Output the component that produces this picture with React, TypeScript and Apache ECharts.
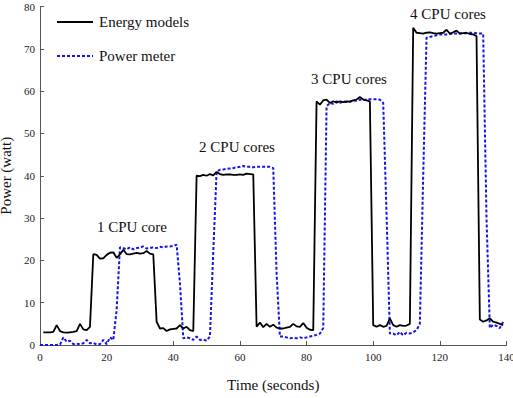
import React, { useEffect, useRef } from "react";
import * as echarts from "echarts";

// Sample times in seconds (one reading per second)
const timeSeconds: number[] = Array.from({ length: 140 }, (_, i) => i);

// Power estimated by the energy models (watt); no reading at t = 0
const energyModels: (number | null)[] = [
  null, 3.0, 3.0, 3.0, 3.1, 4.7, 3.3, 3.0, 2.9, 3.0,
  3.1, 3.3, 5.0, 3.7, 3.5, 4.3, 21.5, 21.3, 20.4, 20.5,
  21.3, 21.8, 21.9, 20.6, 21.4, 22.5, 21.5, 21.4, 21.6, 21.8,
  21.6, 21.7, 22.2, 21.6, 21.4, 5.5, 3.9, 4.0, 3.3, 3.7,
  3.8, 3.9, 4.7, 3.9, 4.3, 3.5, 3.3, 40.0, 39.9, 40.2,
  40.0, 40.4, 40.1, 40.9, 40.4, 40.2, 40.3, 40.3, 40.2, 40.2,
  40.3, 40.2, 40.5, 40.4, 40.3, 4.3, 5.3, 4.2, 5.0, 4.3,
  4.8, 4.1, 3.9, 3.9, 4.1, 4.3, 5.0, 4.4, 4.3, 5.2,
  4.1, 3.6, 3.5, 57.6, 56.8, 57.8, 58.0, 57.2, 57.6, 57.3,
  57.6, 57.4, 57.6, 57.5, 57.8, 58.0, 58.6, 58.0, 57.8, 57.6,
  4.7, 4.3, 4.7, 4.3, 4.5, 6.3, 4.7, 4.3, 4.7, 4.5,
  4.6, 5.0, 75.0, 73.8, 73.7, 73.6, 73.8, 73.9, 73.7, 73.6,
  73.7, 73.8, 74.5, 73.6, 73.9, 74.3, 73.6, 73.7, 73.8, 73.5,
  73.4, 73.0, 6.0, 5.5, 5.8, 6.3, 5.5, 5.3, 5.0, 4.7,
];

// Power measured by the external power meter (watt)
const powerMeter: number[] = [
  0.0, 0.0, 0.0, 0.0, 0.0, 0.0, 0.1, 1.8, 0.8, 1.0,
  0.2, 0.3, 0.2, 0.4, 1.2, 0.4, 0.5, 0.1, 0.2, 1.2,
  0.2, 1.8, 1.2, 8.3, 23.1, 22.9, 22.6, 23.1, 22.6, 22.9,
  23.0, 23.3, 22.8, 22.9, 23.1, 22.9, 23.2, 23.1, 23.3, 23.3,
  23.4, 23.7, 14.6, 1.6, 1.8, 1.6, 1.2, 2.0, 1.2, 1.3,
  1.0, 2.0, 22.0, 41.0, 41.4, 41.5, 41.6, 41.7, 41.8, 42.0,
  42.1, 42.3, 42.1, 42.1, 42.0, 42.1, 42.1, 42.1, 42.1, 42.1,
  41.8, 17.0, 2.0, 2.0, 1.8, 1.6, 1.7, 1.6, 1.8, 1.6,
  1.8, 2.0, 2.2, 2.4, 2.7, 4.0, 56.4, 57.2, 57.0, 57.6,
  57.2, 57.6, 57.4, 57.5, 57.8, 57.7, 58.0, 57.9, 58.0, 58.1,
  58.1, 58.1, 58.0, 57.2, 31.0, 2.7, 2.7, 2.3, 3.1, 2.3,
  2.9, 2.7, 3.0, 3.5, 5.0, 40.0, 72.6, 72.8, 73.0, 73.2,
  73.4, 73.4, 73.4, 73.5, 73.6, 73.6, 73.6, 73.7, 73.7, 73.8,
  73.8, 73.7, 73.6, 73.6, 30.0, 4.0, 4.8, 4.5, 4.0, 5.5,
];

const seriesNames = ["Energy models", "Power meter"];
const phaseLabels = ["1 CPU core", "2 CPU cores", "3 CPU cores", "4 CPU cores"];

const FONT = "Liberation Serif";
const ENERGY_COLOR = "#000000";
const METER_COLOR = "#1414e6";
const METER_DASH = [3, 2];

export default function App() {
  const ref = useRef<HTMLDivElement>(null);

  useEffect(() => {
    if (!ref.current) return;
    const chart = echarts.init(ref.current, undefined, { renderer: "svg" });

    const energyPoints = timeSeconds.map((t, i) => [t, energyModels[i]]);
    const meterPoints = timeSeconds.map((t, i) => [t, powerMeter[i]]);

    const labelPositions = [
      [132, 227],
      [237, 147],
      [349, 79],
      [448, 14],
    ];

    // Hand-drawn legend: line sample followed by its label
    const legendRows = [
      { name: seriesNames[0], y: 22, stroke: ENERGY_COLOR, dash: null as number[] | null },
      { name: seriesNames[1], y: 56, stroke: METER_COLOR, dash: METER_DASH },
    ];
    const legendGraphics = legendRows.flatMap((row) => [
      {
        type: "line",
        shape: { x1: 57, y1: row.y, x2: 93, y2: row.y },
        style: { stroke: row.stroke, lineWidth: 2, lineDash: row.dash || undefined },
      },
      {
        type: "text",
        x: 99,
        y: row.y,
        style: {
          text: row.name,
          fontFamily: FONT,
          fontSize: 15,
          fill: "#111",
          textAlign: "left",
          textVerticalAlign: "middle",
        },
      },
    ]);

    const phaseGraphics = phaseLabels.map((text, i) => ({
      type: "text",
      x: labelPositions[i][0],
      y: labelPositions[i][1],
      style: {
        text,
        fontFamily: FONT,
        fontSize: 15,
        fill: "#111",
        textAlign: "center",
        textVerticalAlign: "middle",
      },
    }));

    chart.setOption({
      animation: false,
      textStyle: { fontFamily: FONT },
      grid: {
        left: 40,
        right: 6.5,
        top: 6.5,
        bottom: 53,
        containLabel: false,
        outerBoundsMode: "none",
      },
      xAxis: {
        type: "value",
        min: 0,
        max: 140,
        interval: 20,
        name: "Time (seconds)",
        nameLocation: "middle",
        nameGap: 32,
        nameTextStyle: { fontFamily: FONT, fontSize: 15, color: "#111" },
        splitLine: { show: false },
        axisLine: { lineStyle: { color: "#555", width: 1 } },
        axisTick: { inside: true, length: 4, lineStyle: { color: "#555" } },
        axisLabel: { fontFamily: FONT, fontSize: 11, color: "#222", margin: 6 },
      },
      yAxis: {
        type: "value",
        min: 0,
        max: 80,
        interval: 10,
        name: "Power (watt)",
        nameLocation: "middle",
        nameGap: 19,
        nameTextStyle: { fontFamily: FONT, fontSize: 15, color: "#111" },
        splitLine: { show: false },
        axisLine: { show: true, lineStyle: { color: "#555", width: 1 } },
        axisTick: { show: true, inside: true, length: 4, lineStyle: { color: "#555" } },
        axisLabel: { fontFamily: FONT, fontSize: 11, color: "#222", margin: 5 },
      },
      series: [
        {
          name: seriesNames[0],
          type: "line",
          data: energyPoints,
          symbol: "none",
          connectNulls: false,
          lineStyle: { color: ENERGY_COLOR, width: 1.8 },
          itemStyle: { color: ENERGY_COLOR },
          z: 3,
        },
        {
          name: seriesNames[1],
          type: "line",
          data: meterPoints,
          symbol: "none",
          lineStyle: { color: METER_COLOR, width: 2, type: METER_DASH },
          itemStyle: { color: METER_COLOR },
          z: 2,
        },
      ],
      graphic: [...legendGraphics, ...phaseGraphics],
    });

    return () => chart.dispose();
  }, []);

  return (
    <div
      ref={ref}
      style={{ position: "fixed", left: 0, top: 0, width: 513, height: 398, background: "#fff" }}
    />
  );
}
